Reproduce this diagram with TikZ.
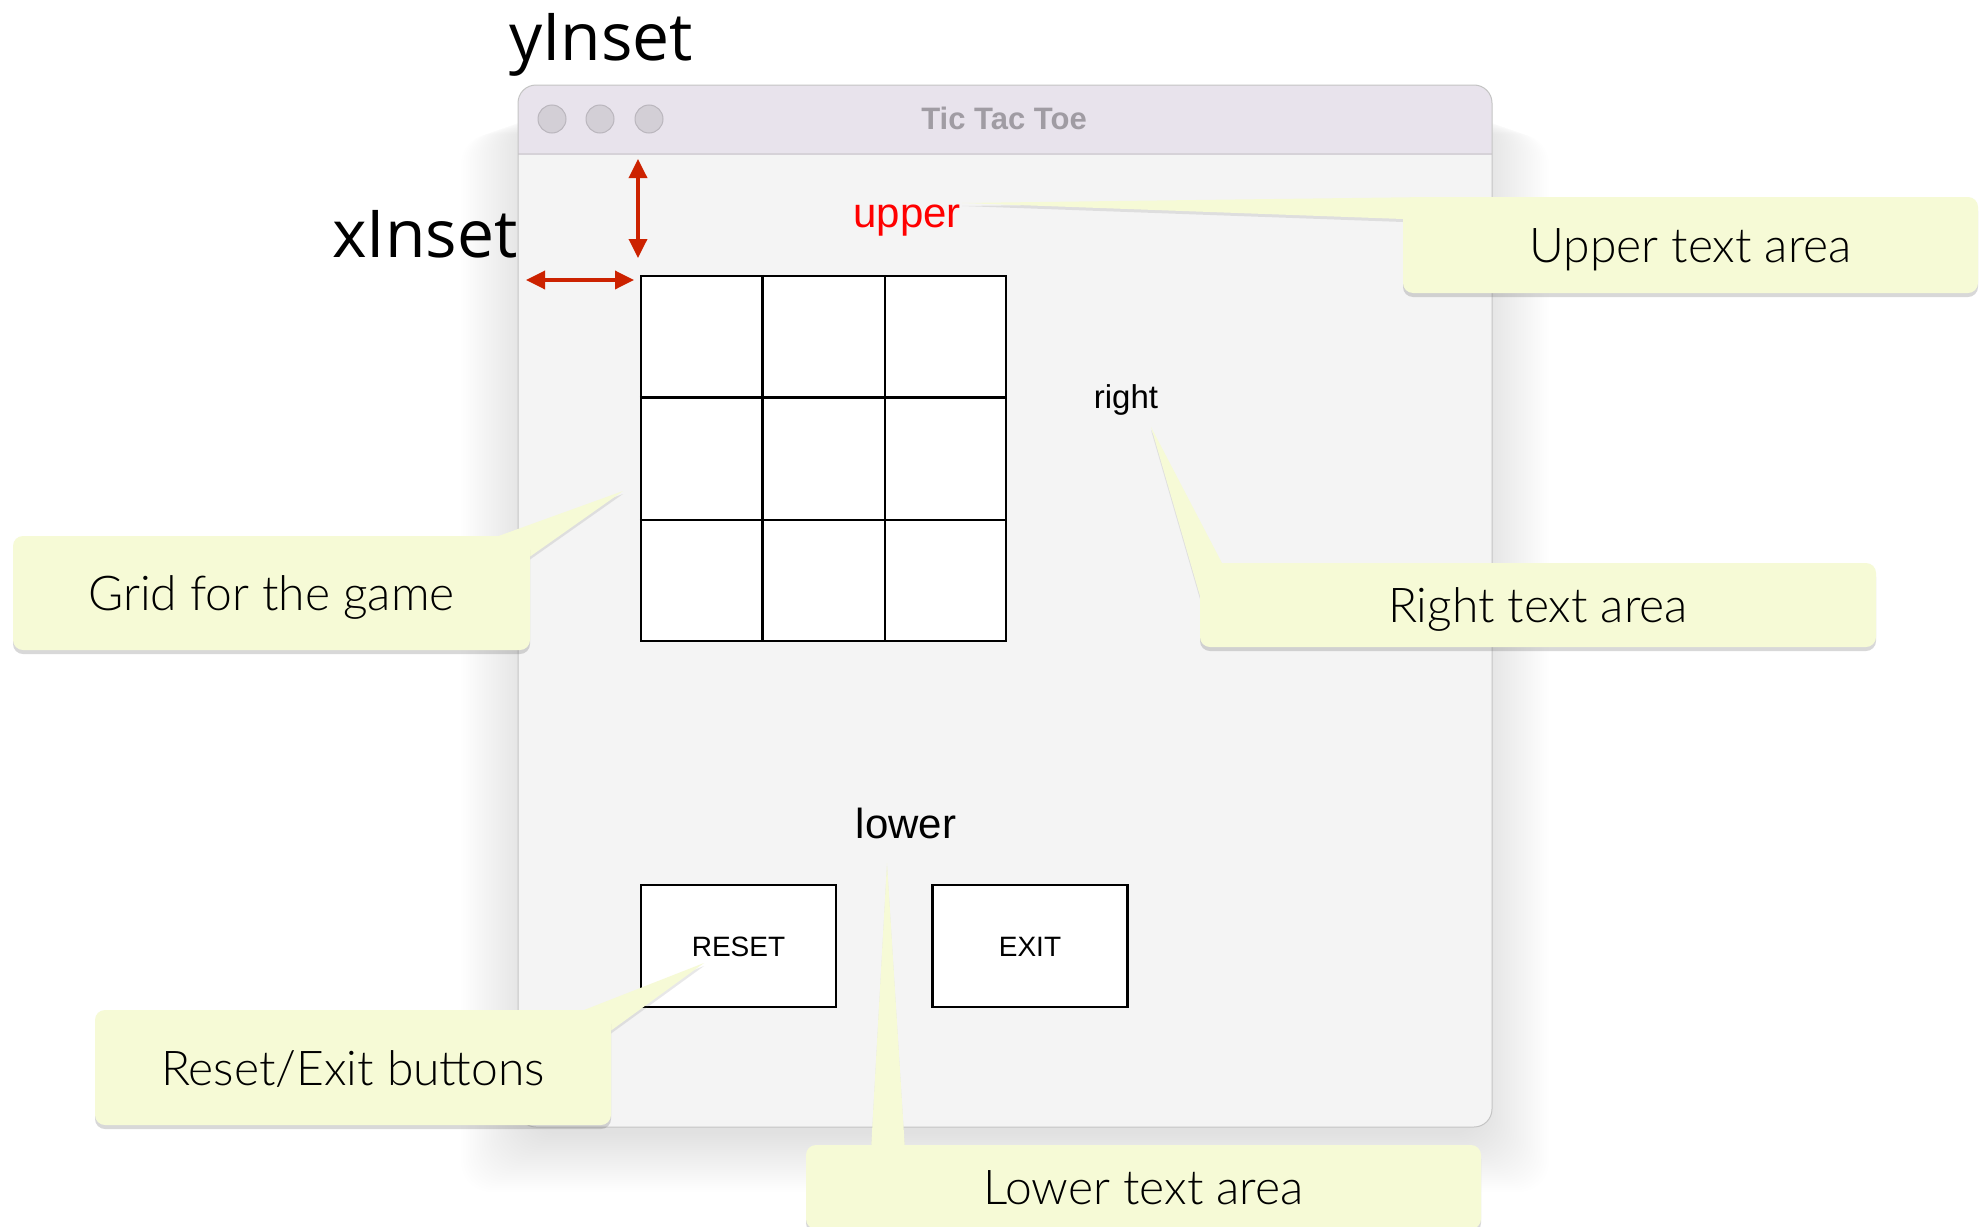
\documentclass[tikz,border=0pt]{standalone}
\usepackage{fontspec}
\setmainfont{Liberation Sans}
\newfontfamily\calloutfont{Lato Light}
\newfontfamily\insetfont{Open Sans}
\newfontfamily\uifont{Liberation Sans}
\usetikzlibrary{arrows.meta,calc,shadows}
\definecolor{winbody}{RGB}{244,244,244}
\definecolor{titlebar}{RGB}{232,227,236}
\definecolor{titleline}{RGB}{214,210,216}
\definecolor{winborder}{RGB}{196,196,196}
\definecolor{dotfill}{RGB}{211,207,214}
\definecolor{dotline}{RGB}{186,182,189}
\definecolor{titletext}{RGB}{160,156,163}
\definecolor{insetred}{RGB}{204,34,0}
\definecolor{calloutfill}{RGB}{246,250,214}
\definecolor{uired}{RGB}{255,0,0}
\tikzset{
  callout/.style={fill=calloutfill, rounded corners=10pt, inner sep=0pt,
    font=\calloutfont\fontsize{48}{56}\selectfont, text height=35pt, text depth=0pt,
    drop shadow={shadow xshift=0pt, shadow yshift=-4pt, opacity=0.25, fill=black!60}},
  pointerfill/.style={fill=calloutfill,
    drop shadow={shadow xshift=0pt, shadow yshift=-3pt, opacity=0.15, fill=black!60}},
  windot/.style={circle, fill=dotfill, draw=dotline, line width=1pt, minimum size=28pt, inner sep=0pt},
  uibutton/.style={draw=black, line width=2.5pt, fill=white, inner sep=0pt,
    minimum width=195pt, minimum height=122pt,
    font=\uifont\fontsize{28}{32}\selectfont, text height=20pt, text depth=0pt},
  gridline/.style={draw=black, line width=2.5pt},
  insetarrow/.style={draw=insetred, line width=3.5pt,
    {Triangle[width=18pt,length=19pt]}-{Triangle[width=18pt,length=19pt]}},
  insetlabel/.style={font=\insetfont\fontsize{66}{76}\selectfont, anchor=base, inner sep=0pt},
  uilabel/.style={font=\uifont\fontsize{42}{48}\selectfont, anchor=base, inner sep=0pt}
}
\begin{document}
\begin{tikzpicture}[x=1pt,y=-1pt]
\useasboundingbox (0,0) rectangle (1986,1226);
\clip (0,0) rectangle (1986,1226);
\fill[white] (0,0) rectangle (1986,1226);
% window shadow (soft, offset downward)
\foreach \i in {1,...,30}{
  \fill[black, opacity=0.0055, rounded corners=30pt] (530-2.3*\i, 110+0.8*\i) rectangle (1480+2.3*\i, 1132+2*\i);
}
% window
\fill[winbody, rounded corners=18pt] (518,85) rectangle (1492,1127);
\begin{scope}
  \clip[rounded corners=18pt] (518,85) rectangle (1492,1127);
  \fill[titlebar] (518,85) rectangle (1492,154);
  \draw[titleline, line width=1.5pt] (518,154) -- (1492,154);
\end{scope}
\draw[winborder, line width=1pt, rounded corners=18pt] (518,85) rectangle (1492,1127);
\node[windot] (dot1) at (552,119) {};
\node[windot] (dot2) at (600,119) {};
\node[windot] (dot3) at (649,119) {};
\node[font=\uifont\bfseries\fontsize{31}{36}\selectfont, text=titletext, anchor=base, inner sep=0pt] (title) at (1004,129) {Tic Tac Toe};
% labels in window
\node[uilabel, text=uired] (uplabel) at (907,227) {upper};
\node[uilabel, font=\uifont\fontsize{33}{38}\selectfont] (rightlabel) at (1126,408) {right};
\node[uilabel] (lowlabel) at (906,838) {lower};
% grid
\node[draw=black, line width=2.5pt, fill=white, minimum size=365pt, inner sep=0pt] (grid) at (823.5,458.5) {};
\draw[gridline] ($(grid.north west)!1/3!(grid.north east)$) -- ($(grid.south west)!1/3!(grid.south east)$);
\draw[gridline] ($(grid.north west)!2/3!(grid.north east)$) -- ($(grid.south west)!2/3!(grid.south east)$);
\draw[gridline] ($(grid.north west)!1/3!(grid.south west)$) -- ($(grid.north east)!1/3!(grid.south east)$);
\draw[gridline] ($(grid.north west)!2/3!(grid.south west)$) -- ($(grid.north east)!2/3!(grid.south east)$);
% buttons
\node[uibutton] (reset) at (738.5,946) {RESET};
\node[uibutton] (exit) at (1030,946) {EXIT};
% insets
\node[insetlabel] (yinset) at (601,60) {yInset};
\node[insetlabel] (xinset) at (425,257) {xInset};
\coordinate (ytop) at (638,159);
\coordinate (ybot) at (638,258);
\coordinate (xleft) at (526,280);
\coordinate (xright) at (634,280);
\draw[insetarrow] (ytop) -- (ybot);
\draw[insetarrow] (xleft) -- (xright);
% callout tips
\coordinate (uptip) at (962,203);
\coordinate (righttip) at (1151,427);
\coordinate (gridtip) at (623,491);
\coordinate (resettip) at (704,963);
\coordinate (lowtip) at (887,863);
% upper callout
\fill[pointerfill] (uptip) -- (1430,197) -- (1403,219) -- cycle;
\node[callout, minimum width=575pt, minimum height=96pt] (uppercall) at (1690.5,245) {Upper text area};
% right callout
\fill[pointerfill] (righttip) -- (1223,565) -- (1202,603) -- cycle;
\node[callout, minimum width=676pt, minimum height=84pt] (rightcall) at (1538,605) {Right text area};
% grid callout
\fill[pointerfill] (gridtip) -- (493,538) -- (528,558) -- cycle;
\node[callout, minimum width=517pt, minimum height=114pt] (gridcall) at (271.5,593) {Grid for the game};
% reset callout
\fill[pointerfill] (resettip) -- (579,1012) -- (609,1032) -- cycle;
\node[callout, minimum width=516pt, minimum height=115pt] (resetcall) at (353,1067.5) {Reset/Exit buttons};
% lower callout
\fill[pointerfill] (lowtip) -- (905,1150) -- (871,1150) -- cycle;
\node[callout, minimum width=675pt, minimum height=84pt] (lowcall) at (1143.5,1187) {Lower text area};
\end{tikzpicture}
\end{document}
